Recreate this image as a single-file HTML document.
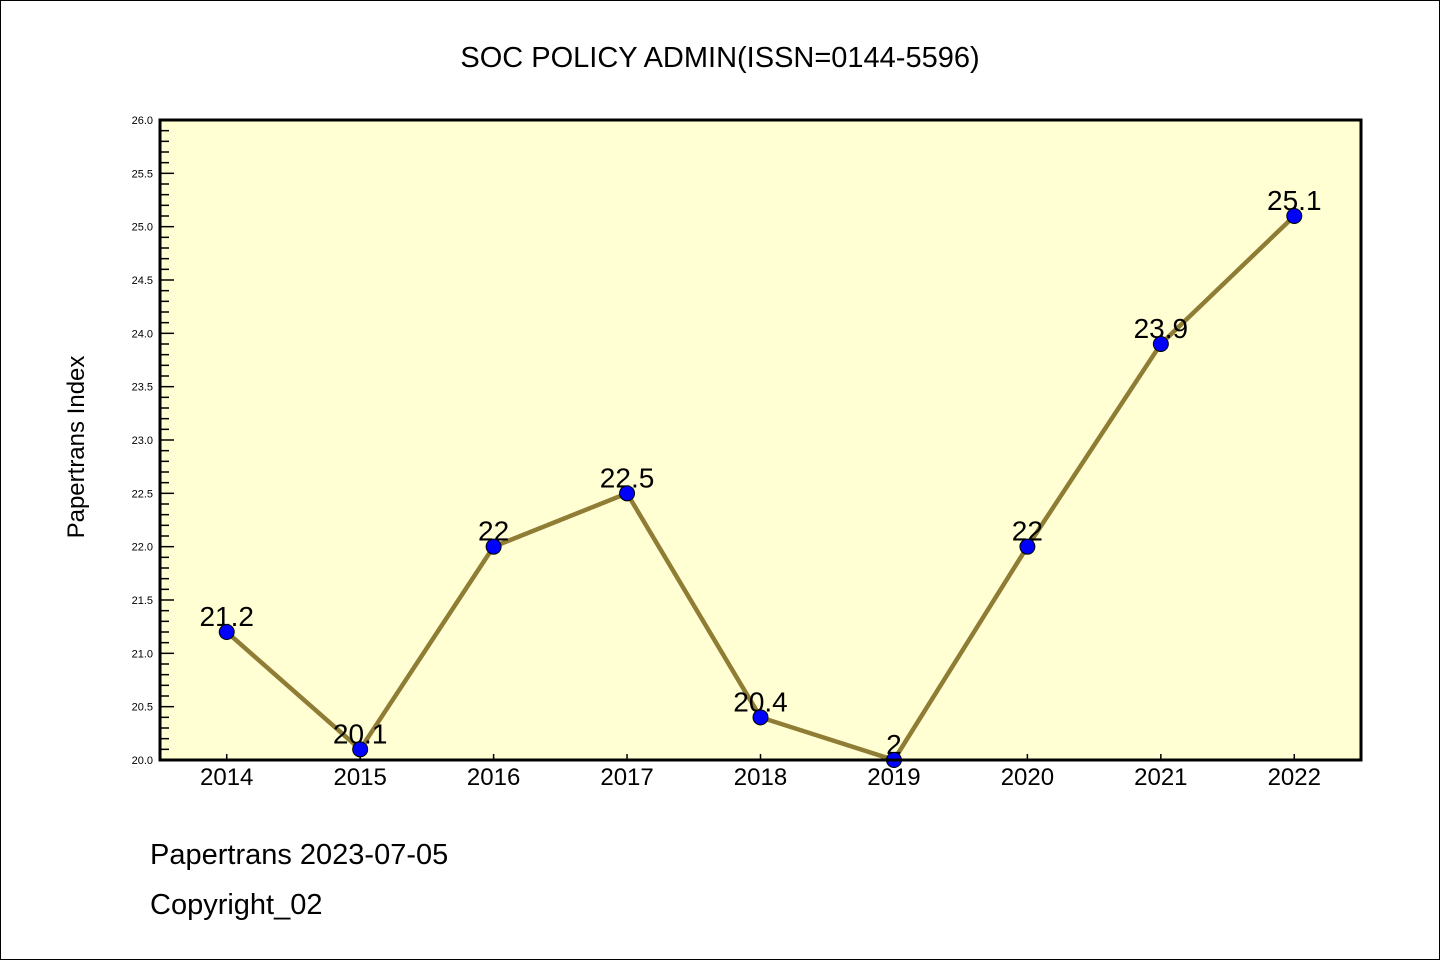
<!DOCTYPE html>
<html><head><meta charset="utf-8"><style>
html,body{margin:0;padding:0;background:#fff}
svg{display:block}
text{font-family:"WenQuanYi Zen Hei","Liberation Sans",sans-serif}
</style></head><body>
<svg id="chart" width="1440" height="960" xmlns="http://www.w3.org/2000/svg">
<rect x="0.5" y="0.5" width="1439" height="959" fill="#fff" stroke="#000" stroke-width="1"/>
<text x="720" y="67" text-anchor="middle" font-size="29">SOC POLICY ADMIN(ISSN=0144-5596)</text>
<rect x="160" y="120" width="1201" height="640" fill="#ffffd3"/>
<g id="yaxis"></g>
<g id="xaxis"></g>
<g id="series"></g>
<rect x="160" y="120" width="1201" height="640" fill="none" stroke="#000" stroke-width="3"/>
<text transform="translate(84,447) rotate(-90)" text-anchor="middle" font-size="24">Papertrans Index</text>
<text x="150" y="864" font-size="29">Papertrans 2023-07-05</text>
<text x="150" y="914" font-size="29">Copyright_02</text>
</svg>
<script>
const categories=["2014","2015","2016","2017","2018","2019","2020","2021","2022"];
const values=[21.2,20.1,22,22.5,20.4,20,22,23.9,25.1];
const valueLabels=["21.2","20.1","22","22.5","20.4","2","22","23.9","25.1"];
const yTicks=["20.0","20.5","21.0","21.5","22.0","22.5","23.0","23.5","24.0","24.5","25.0","25.5","26.0"];
const NS="http://www.w3.org/2000/svg";
const L=160,R=1361,T=120,B=760,ymin=20,ymax=26;
const xs=i=>L+(i+0.5)*(R-L)/categories.length;
const ys=v=>B-(v-ymin)/(ymax-ymin)*(B-T);
function mk(tag,attrs,parent){const e=document.createElementNS(NS,tag);for(const k in attrs)e.setAttribute(k,attrs[k]);parent.appendChild(e);return e;}
const ya=document.getElementById('yaxis'),xa=document.getElementById('xaxis'),sg=document.getElementById('series');
for(let k=0;k<=(ymax-ymin)*10;k++){
  const v=ymin+k/10,y=ys(v),major=k%5===0;
  const t=mk('line',{x1:L,x2:L+(major?14:9),y1:y,y2:y,stroke:'#000','stroke-width':1.5},ya);
  
  
}
yTicks.forEach(s=>{
  const t=mk('text',{x:L-7,y:ys(parseFloat(s))+4,'text-anchor':'end','font-size':11},ya);
  t.textContent=s;
  
  
});
categories.forEach((c,i)=>{
  const x=xs(i);
  const t=mk('line',{x1:x,x2:x,y1:B,y2:B-6,stroke:'#000','stroke-width':1.5},xa);
  
  
  const l=mk('text',{x:x,y:B+25,'text-anchor':'middle','font-size':24},xa);
  l.textContent=c;
  
  
});
const pl=mk('polyline',{points:values.map((v,i)=>xs(i)+','+ys(v)).join(' '),fill:'none',stroke:'#8f7d35','stroke-width':4.5,'stroke-linejoin':'round'},sg);


values.forEach((v,i)=>{
  const l=mk('text',{x:xs(i),y:ys(v)-6,'text-anchor':'middle','font-size':28},sg);
  l.textContent=valueLabels[i];
  
  
});
values.forEach((v,i)=>{
  const p=mk('circle',{cx:xs(i),cy:ys(v),r:7.5,fill:'#0000ff',stroke:'#000','stroke-width':1},sg);
  
  
});
</script>
</body></html>
